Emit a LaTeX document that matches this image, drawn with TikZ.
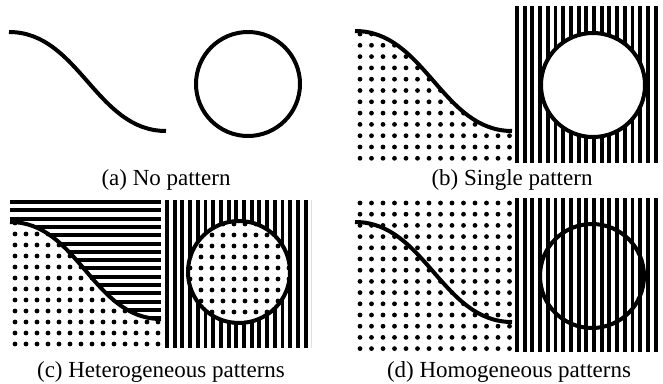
\documentclass[tikz,border=0pt]{standalone}
\usepackage{fontspec}
\setmainfont{Liberation Serif}
\begin{document}
\begin{tikzpicture}[x=1pt,y=-1pt,
  stroke/.style={line width=4pt,draw=black},
  captxt/.style={anchor=base,font=\fontsize{23}{26}\selectfont,inner sep=0pt}]
\useasboundingbox (0,0) rectangle (663,383);
\def\dr{2.4}
% ---------- (a)
\draw[stroke] (9,32) .. controls (79,32) and (96,131) .. (166,131);
\draw[stroke] (248,84) circle (52);
\node[captxt] (capA) at (166,185) {(a) No pattern};
% ---------- (b)
\begin{scope}
\clip (355,31) .. controls (425,31) and (442,131) .. (512,131) -- (512,163) -- (355,163) -- cycle;
\foreach \i in {0,...,13} \foreach \j in {0,...,11} \fill (360+11.5*\i,34+11.3*\j) circle (\dr);
\end{scope}
\draw[stroke] (355,31) .. controls (425,31) and (442,131) .. (512,131);
\begin{scope}
\clip (515,6) rectangle (660,163);
\foreach \k in {0,...,19} \fill (515+7.7*\k,6) rectangle +(3.9,157);
\end{scope}
\fill[white] (593,85) circle (52);
\draw[stroke] (593,85) circle (52);
\node[captxt] (capB) at (512,185) {(b) Single pattern};
% ---------- (c)
\begin{scope}
\clip (10,200) -- (161,200) -- (161,319) .. controls (93,319) and (78,222) .. (10,222) -- cycle;
\foreach \k in {0,...,15} \fill (10,200+8.3*\k) rectangle +(151,4);
\end{scope}
\begin{scope}
\clip (10,222) .. controls (78,222) and (93,319) .. (161,319) -- (161,348) -- (10,348) -- cycle;
\foreach \i in {0,...,13} \foreach \j in {0,...,11} \fill (15+11*\i,223+11*\j) circle (\dr);
\end{scope}
\draw[stroke] (10,222) .. controls (78,222) and (93,319) .. (161,319);
\begin{scope}
\clip (165,200) rectangle (311,348);
\foreach \k in {0,...,19} \fill (165+7.7*\k,200) rectangle +(3.9,148);
\end{scope}
\fill[white] (239,272) circle (51);
\begin{scope}
\clip (239,272) circle (51);
\foreach \i in {0,...,9} \foreach \j in {0,...,9} \fill (190+11*\i,224+11*\j) circle (\dr);
\end{scope}
\draw[stroke] (239,272) circle (51);
\node[captxt] (capC) at (161,377) {(c) Heterogeneous patterns};
% ---------- (d)
\foreach \i in {0,...,13} \foreach \j in {0,...,13} \fill (360+11.5*\i,203+11.2*\j) circle (\dr);
\draw[stroke] (355,222) .. controls (425,222) and (442,322) .. (512,322);
\begin{scope}
\clip (515,198) rectangle (660,352);
\foreach \k in {0,...,19} \fill (515+7.7*\k,198) rectangle +(3.9,154);
\end{scope}
\draw[stroke] (592,276) circle (52);
\node[captxt] (capD) at (509,377) {(d) Homogeneous patterns};
\end{tikzpicture}
\end{document}
